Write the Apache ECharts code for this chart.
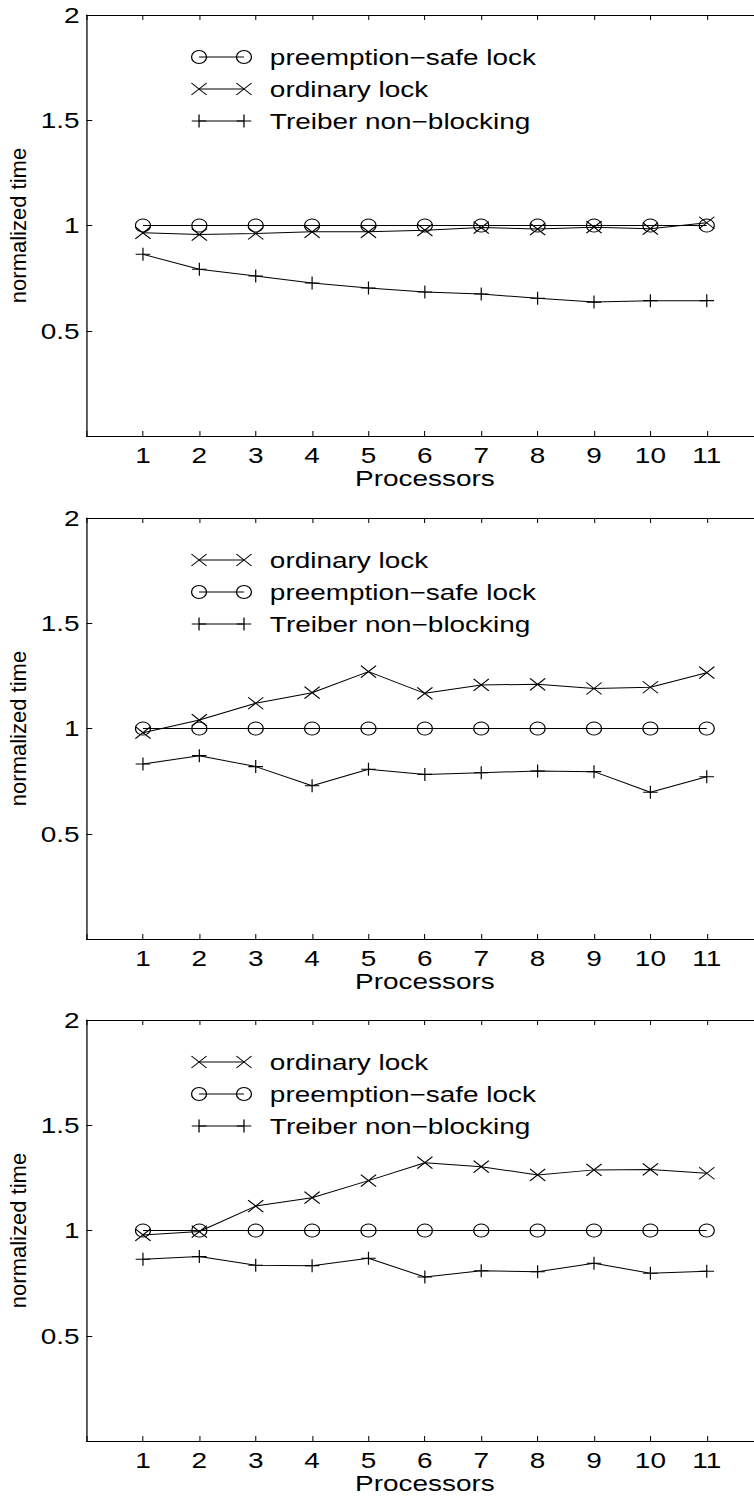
<!DOCTYPE html>
<html><head><meta charset="utf-8">
<script src="https://cdn.jsdelivr.net/npm/echarts@6/dist/echarts.min.js"></script>
<style>
html,body{margin:0;padding:0;background:#fff;overflow:hidden}
#wrap{width:754px;height:1499px;overflow:hidden}
#c{width:594px;height:1499px;transform:scaleX(1.26936);transform-origin:0 0}
</style>
</head><body><div id="wrap"><div id="c"></div></div>
<script>
// ---- data ----
const processors = [1, 2, 3, 4, 5, 6, 7, 8, 9, 10, 11];
const xTickLabels = ['1', '2', '3', '4', '5', '6', '7', '8', '9', '10', '11'];
const yTickLabels = ['0.5', '1', '1.5', '2'];

const preempt1  = [1, 1, 1, 1, 1, 1, 1, 1, 1, 1, 1];
const ordinary1 = [0.965, 0.957, 0.962, 0.970, 0.970, 0.978, 0.990, 0.983, 0.992, 0.985, 1.013];
const treiber1  = [0.863, 0.792, 0.760, 0.727, 0.703, 0.684, 0.675, 0.654, 0.636, 0.643, 0.643];

const preempt2  = [1, 1, 1, 1, 1, 1, 1, 1, 1, 1, 1];
const ordinary2 = [0.980, 1.040, 1.120, 1.170, 1.270, 1.167, 1.207, 1.210, 1.190, 1.196, 1.265];
const treiber2  = [0.831, 0.871, 0.819, 0.728, 0.806, 0.782, 0.790, 0.798, 0.795, 0.697, 0.771];

const preempt3  = [1, 1, 1, 1, 1, 1, 1, 1, 1, 1, 1];
const ordinary3 = [0.979, 0.995, 1.116, 1.156, 1.237, 1.322, 1.303, 1.264, 1.288, 1.290, 1.272];
const treiber3  = [0.863, 0.876, 0.835, 0.833, 0.868, 0.779, 0.809, 0.804, 0.844, 0.797, 0.806];

const nameOrdinary = 'ordinary lock';
const namePreempt = 'preemption\u2212safe lock';
const nameTreiber = 'Treiber non\u2212blocking';
const xAxisTitle = 'Processors';
const yAxisTitle = 'normalized time';

// ---- layout / style (native units; the figure is stretched horizontally by CSS) ----
const STRETCH = 1.26936;
const FONT = 'Liberation Sans';
const FS = 22;
const panels = [
  { top: 15,   series: [['preempt', preempt1], ['ordinary', ordinary1], ['treiber', treiber1]] },
  { top: 518,  series: [['ordinary', ordinary2], ['preempt', preempt2], ['treiber', treiber2]] },
  { top: 1020, series: [['ordinary', ordinary3], ['preempt', preempt3], ['treiber', treiber3]] }
];
const names = { ordinary: nameOrdinary, preempt: namePreempt, treiber: nameTreiber };
const SYM = {
  preempt:  { symbol: 'circle', size: [11.8, 13] },
  ordinary: { symbol: 'path://M0,0L10,10M10,0L0,10', size: [12, 12] },
  treiber:  { symbol: 'path://M0,5L10,5M5,0L5,10', size: [11.5, 13] }
};
const GRID_LEFT = 68.2, GRID_W = 533, GRID_H = 421;

const grid = [], xAxis = [], yAxis = [], series = [], graphic = [];
const axisLineStyle = { show: true, onZero: false, lineStyle: { color: '#000', width: 1 } };
const xTick = { show: true, inside: true, length: 5, lineStyle: { color: '#000', width: 0.8 } };
const yTick = { show: true, inside: true, length: 4.5, lineStyle: { color: '#000', width: 1 } };

panels.forEach((p, pi) => {
  grid.push({ left: GRID_LEFT, top: p.top, width: GRID_W, height: GRID_H, outerBoundsMode: 'none', containLabel: false });
  xAxis.push({
    gridIndex: pi, type: 'value', position: 'bottom', min: 0, max: 12, interval: 1,
    axisLine: axisLineStyle, axisTick: xTick, splitLine: { show: false },
    axisLabel: { color: '#000', fontFamily: FONT, fontSize: FS, margin: 8,
      formatter: v => xTickLabels[v - 1] || '' },
    name: xAxisTitle, nameLocation: 'middle', nameGap: 24,
    nameTextStyle: { color: '#000', fontFamily: FONT, fontSize: FS }
  });
  xAxis.push({
    gridIndex: pi, type: 'value', position: 'top', min: 0, max: 12, interval: 1,
    axisLine: axisLineStyle, axisTick: xTick, splitLine: { show: false },
    axisLabel: { show: false }
  });
  yAxis.push({
    gridIndex: pi, type: 'value', position: 'left', min: 0, max: 2, interval: 0.5,
    axisLine: axisLineStyle, axisTick: yTick, splitLine: { show: false },
    axisLabel: { color: '#000', fontFamily: FONT, fontSize: FS, margin: 5.5,
      formatter: v => yTickLabels[Math.round(v / 0.5) - 1] || '' }
  });
  yAxis.push({
    gridIndex: pi, type: 'value', position: 'right', min: 0, max: 2, interval: 0.5,
    axisLine: axisLineStyle, axisTick: yTick, splitLine: { show: false },
    axisLabel: { show: false }
  });

  // y-axis title: rotated, compressed back so it is not stretched sideways
  graphic.push({
    type: 'text', x: 18.8 / STRETCH, y: p.top + GRID_H / 2, rotation: Math.PI / 2, scaleY: 1 / STRETCH,
    style: { text: yAxisTitle, fill: '#000', font: FS + 'px "Liberation Sans"', align: 'center', verticalAlign: 'middle' }
  });

  p.series.forEach(([key, vals], si) => {
    series.push({
      type: 'line', name: names[key], xAxisIndex: 2 * pi, yAxisIndex: 2 * pi,
      data: processors.map((x, i) => [x, vals[i]]),
      symbol: SYM[key].symbol, symbolSize: SYM[key].size, showAllSymbol: true,
      lineStyle: { color: '#000', width: 1 },
      itemStyle: { color: 'rgba(0,0,0,0)', borderColor: '#000', borderWidth: 1 },
      silent: true, animation: false, z: 3 - si
    });
    // legend row
    const y = p.top + 42 + si * 32, x1 = 156.8, x2 = 192.2;
    const st = { stroke: '#000', lineWidth: 1, fill: 'none' };
    graphic.push({ type: 'line', shape: { x1, y1: y, x2, y2: y }, style: st });
    [x1, x2].forEach(cx => {
      const [w, h] = SYM[key].size;
      if (key === 'preempt') {
        graphic.push({ type: 'ellipse', shape: { cx, cy: y, rx: w / 2, ry: h / 2 }, style: st });
      } else if (key === 'ordinary') {
        graphic.push({ type: 'line', shape: { x1: cx - w / 2, y1: y - h / 2, x2: cx + w / 2, y2: y + h / 2 }, style: st });
        graphic.push({ type: 'line', shape: { x1: cx + w / 2, y1: y - h / 2, x2: cx - w / 2, y2: y + h / 2 }, style: st });
      } else {
        graphic.push({ type: 'line', shape: { x1: cx - w / 2, y1: y, x2: cx + w / 2, y2: y }, style: st });
        graphic.push({ type: 'line', shape: { x1: cx, y1: y - h / 2, x2: cx, y2: y + h / 2 }, style: st });
      }
    });
    graphic.push({ type: 'text', x: 212.6, y, style: { text: names[key], fill: '#000', font: FS + 'px "Liberation Sans"', verticalAlign: 'middle' } });
  });
});

const chart = echarts.init(document.getElementById('c'), null, { renderer: 'svg' });
chart.setOption({ animation: false, backgroundColor: '#fff', grid, xAxis, yAxis, series, graphic });
</script></body></html>
